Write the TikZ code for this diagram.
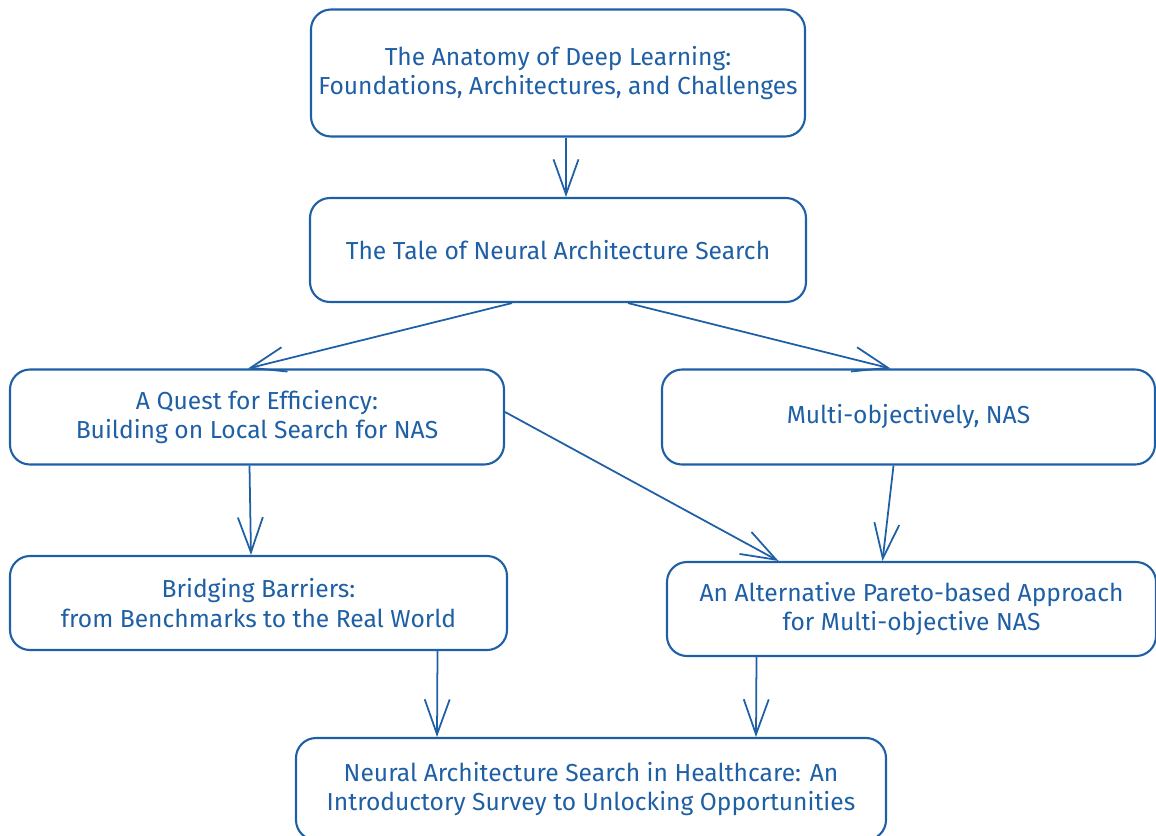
\documentclass[tikz,border=0pt]{standalone}
\usepackage{fontspec}
\setmainfont{Fira Sans}
\usepackage{tikz}
\usetikzlibrary{arrows.meta, positioning, calc}
\definecolor{inkblue}{RGB}{30,95,165}

\begin{document}
\begin{tikzpicture}[
    box/.style={draw=inkblue, line width=1.2pt, rounded corners=0.4cm, text=inkblue, align=center, inner xsep=2pt, font=\fontsize{14}{17}\selectfont},
    link/.style={->, draw=inkblue, line width=1pt, >={Straight Barb[length=7mm, width=5mm]}}
  ]
  \useasboundingbox (0,0) rectangle (23.12,-16.7);
  \node[box, minimum width=9.88cm, minimum height=2.54cm] (anatomy) at (11.16,-1.46) {
    The Anatomy of Deep Learning:\\
    Foundations, Architectures, and Challenges
  };
  \node[box, minimum width=9.92cm, minimum height=2.08cm] (tale) at (11.16,-5.0) {The Tale of Neural Architecture Search};
  \node[box, minimum width=9.88cm, minimum height=1.9cm] (quest) at (5.14,-8.34) {
    A Quest for Efficiency:\\
    Building on Local Search for NAS
  };
  \node[box, minimum width=9.86cm, minimum height=1.9cm] (multi) at (18.17,-8.34) {Multi-objectively, NAS};
  \node[box, minimum width=9.94cm, minimum height=1.88cm] (bridge) at (5.17,-12.06) {
    Bridging Barriers:\\
    from Benchmarks to the Real World
  };
  \node[box, minimum width=9.78cm, minimum height=1.88cm] (alt) at (18.23,-12.18) {
    An Alternative Pareto-based Approach\\
    for Multi-objective NAS
  };
  \node[box, minimum width=11.8cm, minimum height=2.04cm] (health) at (11.82,-15.78) {
    Neural Architecture Search in Healthcare: An\\
    Introductory Survey to Unlocking Opportunities
  };
  \draw[link] ([xshift=0.16cm]anatomy.south) -- ([xshift=0.16cm]tale.north);
  \draw[link] ([xshift=-0.92cm]tale.south) -- ([xshift=-0.18cm]quest.north);
  \draw[link] ([xshift=1.4cm]tale.south) -- ([xshift=-0.36cm]multi.north);
  \draw[link] ([xshift=-0.15cm]quest.south) -- ([xshift=-0.15cm]bridge.north);
  \draw[link] ([yshift=0.1cm]quest.east) -- ([xshift=-2.66cm]alt.north);
  \draw[link] ([xshift=-0.3cm]multi.south) -- ([xshift=-0.58cm]alt.north);
  \draw[link] ([xshift=3.58cm]bridge.south) -- ([xshift=-3.08cm]health.north);
  \draw[link] ([xshift=-3.1cm]alt.south) -- ([xshift=3.3cm]health.north);
\end{tikzpicture}
\end{document}
